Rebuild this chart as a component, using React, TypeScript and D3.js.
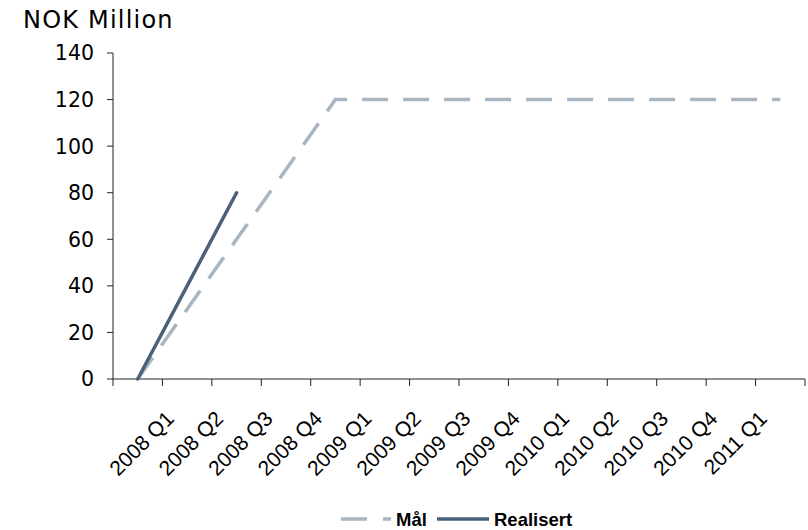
import React from "react";
import * as d3 from "d3";

// Quarterly categories; the first slot is the unlabeled starting point.
const categories: string[] = [
  "",
  "2008 Q1", "2008 Q2", "2008 Q3", "2008 Q4",
  "2009 Q1", "2009 Q2", "2009 Q3", "2009 Q4",
  "2010 Q1", "2010 Q2", "2010 Q3", "2010 Q4",
  "2011 Q1",
];

// Target (Mål) in NOK million
const malValues: (number | null)[] = [0, 30, 60, 90, 120, 120, 120, 120, 120, 120, 120, 120, 120, 120];
// Realised (Realisert) in NOK million
const realisertValues: (number | null)[] = [0, 40, 80, null, null, null, null, null, null, null, null, null, null, null];

const yTicks: number[] = [0, 20, 40, 60, 80, 100, 120, 140];

const W = 808;
const H = 530;
const plotLeft = 113;
const plotRight = 805;
const plotTop = 53;
const plotBottom = 379;

const MAL_COLOR = "#a9b5c0";
const REAL_COLOR = "#49627a";
const AXIS_COLOR = "#222";

export default function App() {
  const x = d3.scaleBand<string>().domain(categories.map((_, i) => String(i))).range([plotLeft, plotRight]).padding(0);
  const y = d3.scaleLinear().domain([0, 140]).range([plotBottom, plotTop]);
  const cx = (i: number) => (x(String(i)) as number) + x.bandwidth() / 2;

  const line = d3
    .line<number | null>()
    .defined((d) => d !== null)
    .x((_, i) => cx(i))
    .y((d) => y(d as number));

  const boundaries = d3.range(categories.length + 1).map((i) => plotLeft + i * x.bandwidth());

  return (
    <svg width={W} height={H} style={{ position: "absolute", left: 0, top: 0, background: "#fff" }}>
      {/* y-axis title */}
      <text x={23} y={28} fontFamily="DejaVu Sans" fontSize={24} letterSpacing={1.2} fill="#000">
        NOK Million
      </text>

      {/* y axis */}
      <line x1={plotLeft} x2={plotLeft} y1={plotTop} y2={plotBottom} stroke={AXIS_COLOR} strokeWidth={1} />
      {yTicks.map((t) => (
        <g key={t}>
          <line x1={plotLeft - 6} x2={plotLeft} y1={y(t)} y2={y(t)} stroke={AXIS_COLOR} strokeWidth={1} />
          <text x={94} y={y(t)} dy="0.36em" textAnchor="end" fontFamily="DejaVu Sans" fontSize={20.5} fill="#000">
            {t}
          </text>
        </g>
      ))}

      {/* x axis */}
      <line x1={plotLeft} x2={plotRight} y1={plotBottom} y2={plotBottom} stroke={AXIS_COLOR} strokeWidth={1} />
      {boundaries.map((bx, i) => (
        <line key={i} x1={bx} x2={bx} y1={plotBottom} y2={plotBottom + 7} stroke={AXIS_COLOR} strokeWidth={1} />
      ))}
      {categories.map((c, i) =>
        c ? (
          <text
            key={c}
            transform={`translate(${cx(i) - 12},${plotBottom + 41}) rotate(-45)`}
            textAnchor="end"
            fontFamily="Liberation Sans, Arial, sans-serif"
            fontSize={21}
            fill="#000"
          >
            {c}
          </text>
        ) : null
      )}

      {/* series */}
      <path d={line(malValues) || ""} fill="none" stroke={MAL_COLOR} strokeWidth={3.5} strokeDasharray="26 15" />
      <path d={line(realisertValues) || ""} fill="none" stroke={REAL_COLOR} strokeWidth={3.5} strokeLinecap="round" />

      {/* legend */}
      <g fontFamily="Liberation Sans, Arial, sans-serif" fontWeight="bold" fontSize={18.5} fill="#000">
        <line x1={341} x2={391} y1={519} y2={519} stroke={MAL_COLOR} strokeWidth={3.5} strokeDasharray="26 16" />
        <text x={396} y={519} dy="0.36em">Mål</text>
        <line x1={437} x2={489} y1={519} y2={519} stroke={REAL_COLOR} strokeWidth={3.5} />
        <text x={494} y={519} dy="0.36em">Realisert</text>
      </g>
    </svg>
  );
}
